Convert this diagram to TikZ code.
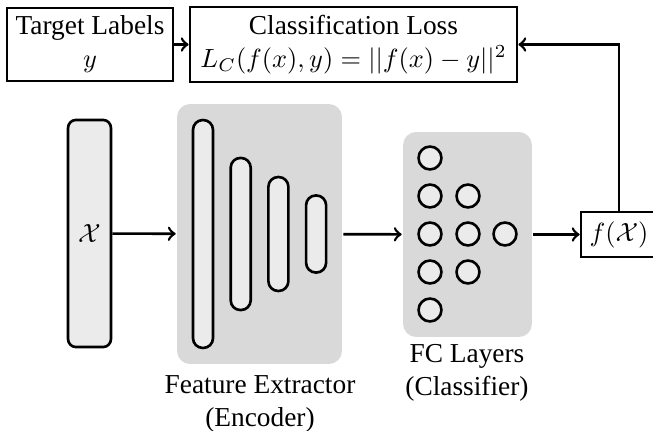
\documentclass[tikz,border=0pt]{standalone}
\usepackage[no-math]{fontspec}
\setmainfont{Liberation Serif}
\usetikzlibrary{positioning}

\begin{document}
\begin{tikzpicture}[x=0.38pt, y=-0.38pt, line width=1pt,
  font=\fontsize{10.4}{12.5}\selectfont,
  box/.style={draw, rectangle, align=center, inner sep=0pt},
  panel/.style={fill=black!15, rounded corners=5pt, inner sep=0pt},
  layer/.style={draw, fill=black!8, inner sep=0pt, minimum width=7.6pt},
  neuron/.style={draw, circle, fill=black!8, inner sep=0pt, minimum size=8.7pt}]
\useasboundingbox (0,0) rectangle (653,431);

% loss part
\node[box, minimum width=63pt, minimum height=27.7pt] (target) at (90,44.5) {Target Labels\\$y$};
\node[box, minimum width=124.3pt, minimum height=28.5pt] (loss) at (353.5,44.5) {Classification Loss\\$L_C(f(x),y) = ||f(x)-y||^2$};

% input
\node[layer, rounded corners=3pt, minimum width=16.3pt, minimum height=86.3pt] (input) at (89.5,233.5) {$\mathcal{X}$};

% encoder
\node[panel, minimum width=62.7pt, minimum height=98.8pt] (enc) at (259.5,234) {};
\foreach \h [count=\i] in {86.6,57.8,43.3,29.3}
  \node[layer, rounded corners=3.7pt, minimum height=\h pt] (e\i) at ({203+37.7*(\i-1)},234) {};
\node[align=center] (enclabel) at (260,404) {Feature Extractor\\(Encoder)};

% classifier
\node[panel, minimum width=49pt, minimum height=77.9pt] (fc) at (467.5,234.5) {};
\foreach \i in {1,...,5}
  \node[neuron] (a\i) at (430,{158+38*(\i-1)}) {};
\foreach \i in {1,...,3}
  \node[neuron] (b\i) at (468,{196+38*(\i-1)}) {};
\node[neuron] (c1) at (505,234) {};
\node[align=center] (fclabel) at (467,372.5) {FC Layers\\(Classifier)};

% output
\node[box, minimum width=28.9pt, minimum height=17.1pt] (fx) at (619,234.5) {$f(\mathcal{X})$};

\draw[->] (target) -- (loss);
\draw[->] (input) -- (enc);
\draw[->] (enc) -- (fc);
\draw[->] (fc) -- (fx);
\draw[->] (fx.north) |- (loss.east);
\end{tikzpicture}
\end{document}
